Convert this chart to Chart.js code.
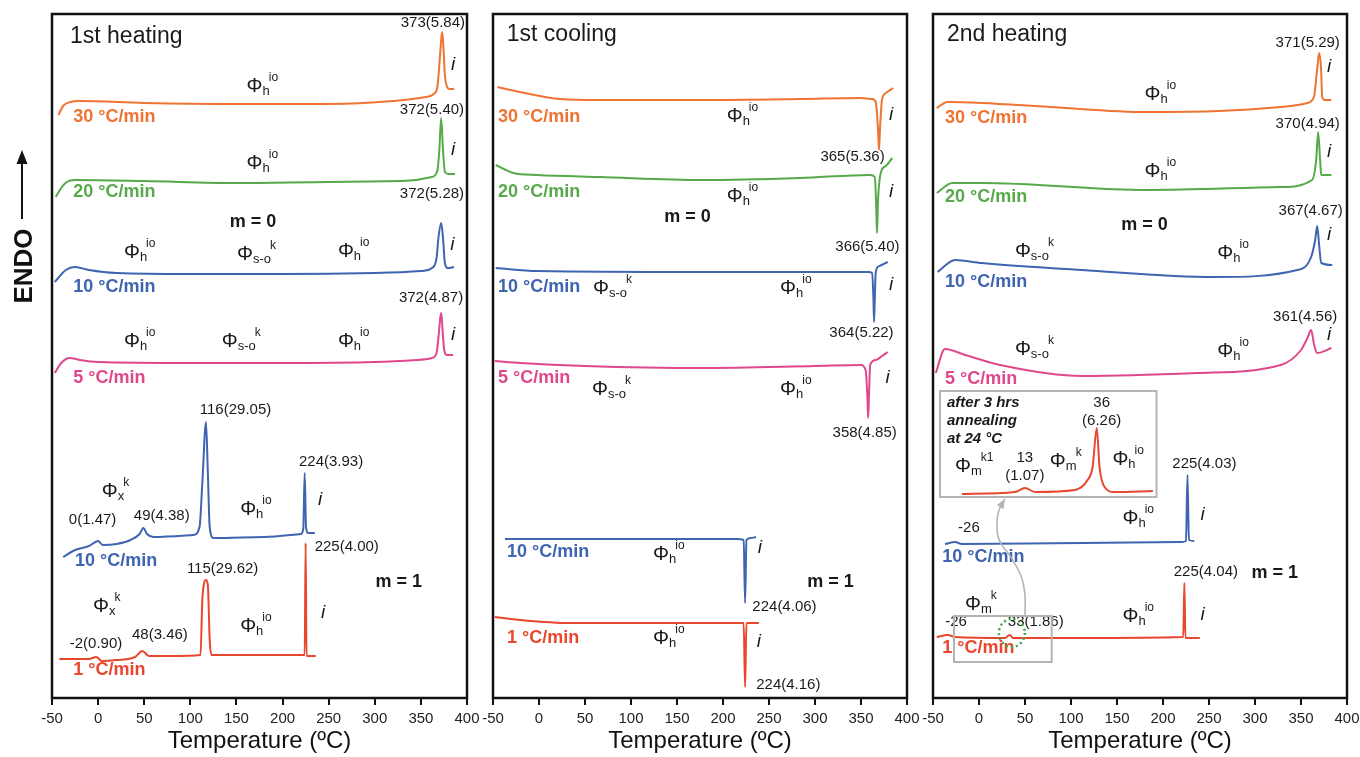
<!DOCTYPE html>
<html lang="en">
<head>
<meta charset="UTF-8" />
<title>DSC traces – heating / cooling</title>
<script src="https://cdn.jsdelivr.net/npm/chart.js"></script>
<style>
  body { margin: 0; background: #fff; }
  #wrap { position: relative; width: 1360px; height: 757px; }
  #wrap canvas { position: absolute; left: 0; top: 0; }
</style>
</head>
<body>
<div id="wrap">
  <canvas id="c1" width="1360" height="757"></canvas>
  <canvas id="c2" width="1360" height="757"></canvas>
  <canvas id="c3" width="1360" height="757"></canvas>
</div>
<script>
// temperature (°C), heat flow offset (a.u., endo up)
const heat1_30 = [[-43,583],[-38,592],[-30,596],[-20,597],[50,595],[150,594],[250,594],[320,597],[355,601],[364,604],[368,612],[370,633],[372,658],[373,666],[374,658],[376,623],[378,612],[381,609],[386,609]];
const heat1_20 = [[-46,501],[-40,510],[-34,516],[-25,518],[50,517],[150,515],[250,516],[330,517],[362,521],[368,528],[370,548],[372,580],[374,548],[376,526],[380,524],[387,524]];
const heat1_10 = [[-47,416],[-35,428],[-25,431],[-10,428],[20,425],[100,424],[200,424],[300,425],[350,427],[362,430],[367,440],[369,460],[372,475],[374,460],[376,435],[379,430],[386,431]];
const heat1_5 = [[-47,325],[-40,335],[-31,340],[-20,338],[0,336],[100,335],[200,335],[300,336],[346,338],[362,340],[367,345],[369,360],[371,380],[372,385],[373,375],[375,350],[378,343],[385,343]];
const heat1_m1_10 = [[-38,141],[-25,148],[-10,152],[0,157],[5,153],[20,154],[35,158],[45,164],[49,170],[53,164],[60,161],[103,163],[110,171],[113,215],[117,276],[119,225],[121,171],[125,160],[180,161],[220,164],[222.5,170],[224,225],[225.5,170],[228,165],[235,165]];
const heat1_m1_1 = [[-42,39],[-10,39],[-2,41],[4,37],[20,38],[40,41],[48,47],[55,42],[80,42],[111,43],[113,98],[115,115],[117,118],[119,113],[121,58],[123,43],[200,43],[224,43],[225,155],[226,42],[236,42]];

const cool1_30 = [[-45,611],[-31,608],[1,602],[23,599],[66,598],[175,598],[284,599],[349,600],[362,599],[366,596],[368.5,568],[369.6,548],[370.7,570],[372.8,598],[377,605],[385,610]];
const cool1_20 = [[-47,533],[-28,525],[-2,523],[66,521],[178,518],[284,520],[360,523],[365,521],[366.3,498],[367.4,465],[368.5,498],[371.7,526],[377,532],[384,540]];
const cool1_10 = [[-47,430],[-2,427],[175,426],[358,426],[362,425],[363.5,400],[364.2,376],[365,400],[366,426],[370,432],[379,436]];
const cool1_5 = [[-48,337],[-20,335],[50,332],[178,330],[300,332],[350,333],[355,328],[357,300],[357.8,280],[358.6,300],[360,333],[366,338],[373,342],[379,346]];
const cool1_m1_10 = [[-37,159],[50,159],[150,159],[215,159],[222.5,158],[224,95],[225.5,158],[230,160],[236,161]];
const cool1_m1_1 = [[-48,81],[-20,78],[34,75],[150,75],[222.5,75],[224,11],[225.5,75],[239,75]];

const heat2_30 = [[-46,590],[-34,596],[3,595],[77,591],[183,586],[261,587],[328,591],[357,595],[364,601],[367.5,628],[369.7,645],[371.9,628],[373,601],[376,598],[383,598]];
const heat2_20 = [[-46,505],[-29,515],[3,515],[183,508],[328,511],[362,518],[366.5,538],[368.6,566],[370.8,538],[372,523],[383,523]];
const heat2_10 = [[-45,426],[-26,438],[3,435],[112,428],[256,421],[346,428],[361,441],[365.4,458],[367.6,472],[369.7,453],[372,435],[384,433]];
const heat2_5 = [[-47,325],[-37,349],[-15,343],[23,333],[112,322],[237,325],[328,333],[350,348],[357,360],[361,368],[364.3,353],[367.5,345],[383,350]];
const heat2_anneal = [[-18.5,204],[39,206],[50,210],[61,206],[104,208],[118,218],[123.5,231],[128,270],[131,231],[136.5,211],[147,206],[189,207]];
const heat2_m1_10 = [[-37,154],[-26,156],[-18.5,154],[112,155],[220,156],[225,157],[226.6,223],[228.2,158],[234,157]];
const heat2_m1_1 = [[-46,61],[-34,63],[-26,61],[28,60],[33.5,63],[37,60],[112,60],[222,61],[223.2,115],[224.4,60],[240,60]];

// annotations: [T, offset, kind, text, extra]
const notes1 = [
  [-30.5,661,'title','1st heating'],
  [-27,581,'rate','30 °C/min','o'], [161,613,'phi','h','io'], [363,675,'num','373(5.84)'], [385,633,'i','i'],
  [-27,506,'rate','20 °C/min','g'], [161,536,'phi','h','io'], [362,588,'num','372(5.40)'], [385,548,'i','i'],
  [362,504,'num','372(5.28)'], [168,476,'bold','m = 0'],
  [28,447,'phi','h','io'], [150.6,445,'phi','s-o','k'], [260,448,'phi','h','io'], [384,453,'i','i'],
  [-27,411,'rate','10 °C/min','b'], [361,400,'num','372(4.87)'],
  [28,358,'phi','h','io'], [134,358,'phi','s-o','k'], [260,358,'phi','h','io'], [385,363,'i','i'],
  [-27,320,'rate','5 °C/min','p'],
  [149,288,'num','116(29.05)'], [252.6,236,'num','224(3.93)'], [4,208,'phi','x','k'],
  [-6,178,'num','0(1.47)'], [69,182,'num','49(4.38)'], [154,190,'phi','h','io'], [240.7,198,'i','i'],
  [-25,137,'rate','10 °C/min','b'], [269.6,151,'num','225(4.00)'], [135,129,'num','115(29.62)'],
  [326,116,'bold','m = 1'], [-5.5,93,'phi','x','k'], [244,85,'i','i'], [154,73,'phi','h','io'],
  [-2.3,54,'num','-2(0.90)'], [67,63,'num','48(3.46)'], [-27,28,'rate','1 °C/min','r']
];
const notes2 = [
  [-35,663,'title','1st cooling'],
  [-44.6,581,'rate','30 °C/min','o'], [204,583,'phi','h','io'], [382.6,583,'i','i'], [340.8,541,'num','365(5.36)'],
  [-44.6,506,'rate','20 °C/min','g'], [204,503,'phi','h','io'], [161.4,481,'bold','m = 0'], [382.6,506,'i','i'],
  [357,451,'num','366(5.40)'],
  [-44.6,411,'rate','10 °C/min','b'], [58.7,411,'phi','s-o','k'], [262,411,'phi','h','io'], [382.6,413,'i','i'],
  [350.5,365,'num','364(5.22)'],
  [-44.6,320,'rate','5 °C/min','p'], [57.6,310,'phi','s-o','k'], [262,310,'phi','h','io'], [379,320,'i','i'],
  [354,265,'num','358(4.85)'],
  [-34.8,146,'rate','10 °C/min','b'], [124,145,'phi','h','io'], [240,150,'i','i'],
  [316.8,116,'bold','m = 1'], [266.8,91,'num','224(4.06)'],
  [-34.8,60,'rate','1 °C/min','r'], [124,61,'phi','h','io'], [239,56,'i','i'], [271,13,'num','224(4.16)']
];
const notes3 = [
  [-34.8,663,'title','2nd heating'],
  [357.3,655,'num','371(5.29)'], [380.6,631,'i','i'], [180,605,'phi','h','io'], [-37,580,'rate','30 °C/min','o'],
  [357.3,574,'num','370(4.94)'], [380.6,546,'i','i'], [180,528,'phi','h','io'], [-37,501,'rate','20 °C/min','g'],
  [180,473,'bold','m = 0'], [360.5,487,'num','367(4.67)'], [380.6,463,'i','i'],
  [39,448,'phi','s-o','k'], [259,446,'phi','h','io'], [-37,416,'rate','10 °C/min','b'],
  [354.5,381,'num','361(4.56)'], [380.6,363,'i','i'], [39,350,'phi','s-o','k'], [259,348,'phi','h','io'],
  [-37,319,'rate','5 °C/min','p'],
  [-34.8,295,'inset','after 3 hrs'], [-34.8,277,'inset','annealing'], [-34.8,259,'inset','at 24 °C'],
  [133.3,295,'num','36'], [133.3,277,'num','(6.26)'], [-26,233,'phi','m','k1'],
  [49.8,240,'num','13'], [49.8,222,'num','(1.07)'], [77,238,'phi','m','k'], [145,240,'phi','h','io'],
  [245,234,'num','225(4.03)'], [-11,170,'num','-26'], [156,181,'phi','h','io'], [243,183,'i','i'],
  [-40,141,'rate','10 °C/min','b'], [246.6,126,'num','225(4.04)'], [321.5,125,'bold','m = 1'],
  [-15.3,95,'phi','m','k'], [-25,76,'num','-26'], [61.7,76,'num','33(1.86)'], [156,83,'phi','h','io'],
  [243,83,'i','i'], [-40,50,'rate','1 °C/min','r']
];

const insetBox = [-42.4, 307, 193, 201];
const zoomBox = [-27.2, 82, 79, 36];
const zoomCircle = [35.7, 65];
const arrowPath = [[49.8,81],[52,111],[35.7,141],[19.4,158],[19.4,185],[28,199]];

const xTicks = [-50, 0, 50, 100, 150, 200, 250, 300, 350, 400];

const COLORS = { o: '#ef7332', g: '#58a94b', b: '#3f64b0', p: '#e0488b', r: '#e8472d' };
const FAMILY = '"Liberation Sans", Arial, sans-serif';

function drawPhi(ctx, px, py, sub, sup) {
  ctx.textAlign = 'left';
  ctx.textBaseline = 'alphabetic';
  ctx.font = '20px ' + FAMILY;
  ctx.fillText('Φ', px, py + 7);
  const w = ctx.measureText('Φ').width;
  ctx.font = '13px ' + FAMILY;
  ctx.fillText(sub, px + w, py + 10);
  const sw = ctx.measureText(sub).width;
  ctx.font = '12px ' + FAMILY;
  ctx.fillText(sup, px + w + sw - 1, py - 4);
}

function notesPlugin(items, extra) {
  return {
    id: 'notes',
    afterDatasetsDraw(chart) {
      const { ctx, chartArea: a, scales: { x, y } } = chart;
      ctx.save();
      for (const [t, v, kind, text, more] of items) {
        const px = x.getPixelForValue(t), py = y.getPixelForValue(v);
        ctx.fillStyle = '#1a1a1a';
        ctx.textBaseline = 'middle';
        if (kind === 'phi') { drawPhi(ctx, px, py, text, more); continue; }
        if (kind === 'title') { ctx.font = '23px ' + FAMILY; ctx.textAlign = 'left'; }
        else if (kind === 'rate') { ctx.font = 'bold 18px ' + FAMILY; ctx.textAlign = 'left'; ctx.fillStyle = COLORS[more]; }
        else if (kind === 'num') { ctx.font = '15px ' + FAMILY; ctx.textAlign = 'center'; }
        else if (kind === 'bold') { ctx.font = 'bold 18px ' + FAMILY; ctx.textAlign = 'center'; }
        else if (kind === 'i') { ctx.font = 'italic 19px ' + FAMILY; ctx.textAlign = 'center'; }
        else if (kind === 'inset') { ctx.font = 'italic bold 15px ' + FAMILY; ctx.textAlign = 'left'; }
        ctx.fillText(text, px, py);
      }
      if (extra) extra(chart);
      ctx.strokeStyle = '#111';
      ctx.lineWidth = 2.5;
      ctx.strokeRect(a.left, a.top, a.right - a.left, a.bottom - a.top);
      ctx.restore();
    }
  };
}

function endoLabel(chart) {
  const ctx = chart.ctx;
  ctx.save();
  ctx.fillStyle = '#111';
  ctx.translate(25, 266);
  ctx.rotate(-Math.PI / 2);
  ctx.font = 'bold 26px ' + FAMILY;
  ctx.textAlign = 'center';
  ctx.textBaseline = 'middle';
  ctx.fillText('ENDO', 0, 0);
  ctx.restore();
  ctx.save();
  ctx.strokeStyle = '#111';
  ctx.fillStyle = '#111';
  ctx.lineWidth = 2;
  ctx.beginPath();
  ctx.moveTo(22, 219);
  ctx.lineTo(22, 160);
  ctx.stroke();
  ctx.beginPath();
  ctx.moveTo(22, 150);
  ctx.lineTo(16.5, 164);
  ctx.lineTo(27.5, 164);
  ctx.closePath();
  ctx.fill();
  ctx.restore();
}

function annealMarks(chart) {
  const { ctx, scales: { x, y } } = chart;
  const px = (t) => x.getPixelForValue(t), py = (v) => y.getPixelForValue(v);
  ctx.save();
  ctx.strokeStyle = '#b4b4b4';
  ctx.lineWidth = 2;
  for (const b of [insetBox, zoomBox]) {
    ctx.strokeRect(px(b[0]), py(b[1]), px(b[2]) - px(b[0]), py(b[3]) - py(b[1]));
  }
  // curved pointer from the small box to the inset
  const pts = arrowPath.map(([t, v]) => [px(t), py(v)]);
  ctx.lineWidth = 1.6;
  ctx.beginPath();
  ctx.moveTo(pts[0][0], pts[0][1]);
  for (let i = 1; i < pts.length - 1; i++) {
    const mx = (pts[i][0] + pts[i + 1][0]) / 2, my = (pts[i][1] + pts[i + 1][1]) / 2;
    ctx.quadraticCurveTo(pts[i][0], pts[i][1], mx, my);
  }
  const tip = pts[pts.length - 1];
  ctx.lineTo(tip[0], tip[1]);
  ctx.stroke();
  const prev = pts[pts.length - 2];
  const ang = Math.atan2(tip[1] - prev[1], tip[0] - prev[0]);
  ctx.fillStyle = '#b4b4b4';
  ctx.beginPath();
  ctx.moveTo(tip[0], tip[1]);
  ctx.lineTo(tip[0] - 10 * Math.cos(ang - 0.4), tip[1] - 10 * Math.sin(ang - 0.4));
  ctx.lineTo(tip[0] - 10 * Math.cos(ang + 0.4), tip[1] - 10 * Math.sin(ang + 0.4));
  ctx.closePath();
  ctx.fill();
  // dotted circle round the 33 °C event
  ctx.strokeStyle = '#3aa845';
  ctx.lineWidth = 2.5;
  ctx.setLineDash([2, 3]);
  ctx.beginPath();
  ctx.ellipse(px(zoomCircle[0]), py(zoomCircle[1]), 13, 14, 0, 0, Math.PI * 2);
  ctx.stroke();
  ctx.restore();
}

function makeChart(id, left, right, series, notes, extra) {
  return new Chart(document.getElementById(id), {
    type: 'line',
    data: {
      datasets: series.map(([pts, col]) => ({
        data: pts.map(([t, v]) => ({ x: t, y: v })),
        borderColor: COLORS[col],
        borderWidth: 2,
        pointRadius: 0,
        fill: false,
        cubicInterpolationMode: 'monotone'
      }))
    },
    options: {
      responsive: false,
      animation: false,
      events: [],
      layout: { padding: { left: left, right: 1360 - right, top: 14, bottom: 0 } },
      plugins: { legend: { display: false }, tooltip: { enabled: false } },
      scales: {
        x: {
          type: 'linear',
          min: -50,
          max: 400,
          afterBuildTicks: (s) => { s.ticks = xTicks.map(v => ({ value: v })); },
          afterFit: (s) => { s.height = 59; s.paddingLeft = 0; s.paddingRight = 0; },
          ticks: { color: '#222', font: { size: 15, family: FAMILY }, padding: 5, maxRotation: 0, autoSkip: false },
          grid: { drawOnChartArea: false, drawTicks: true, tickLength: 7, color: '#111', lineWidth: 2 },
          border: { display: false },
          title: { display: true, text: 'Temperature (ºC)', color: '#111', font: { size: 24, family: FAMILY }, padding: { top: 0, bottom: 1 } }
        },
        y: { display: false, min: 0, max: 684 }
      }
    },
    plugins: [notesPlugin(notes, extra)]
  });
}

makeChart('c1', 52, 467, [
  [heat1_30, 'o'], [heat1_20, 'g'], [heat1_10, 'b'], [heat1_5, 'p'], [heat1_m1_10, 'b'], [heat1_m1_1, 'r']
], notes1, endoLabel);

makeChart('c2', 493, 907, [
  [cool1_30, 'o'], [cool1_20, 'g'], [cool1_10, 'b'], [cool1_5, 'p'], [cool1_m1_10, 'b'], [cool1_m1_1, 'r']
], notes2, null);

makeChart('c3', 933, 1347, [
  [heat2_30, 'o'], [heat2_20, 'g'], [heat2_10, 'b'], [heat2_5, 'p'], [heat2_anneal, 'r'], [heat2_m1_10, 'b'], [heat2_m1_1, 'r']
], notes3, annealMarks);
</script>
</body>
</html>
